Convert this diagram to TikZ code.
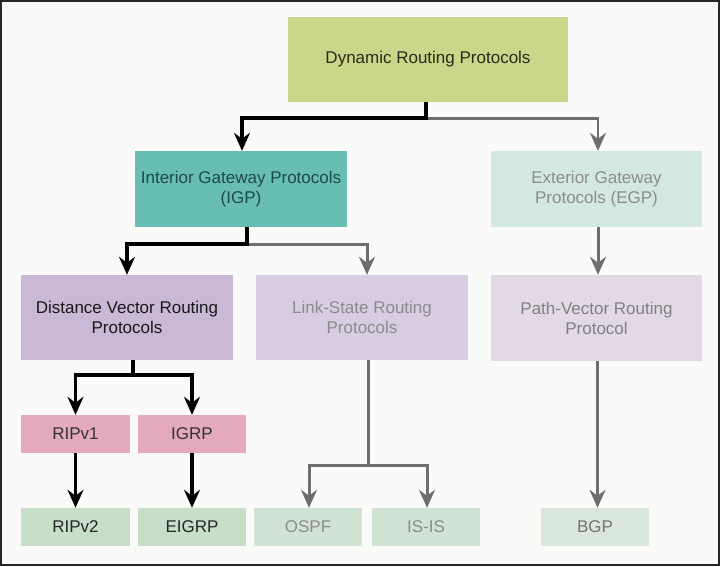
\documentclass[tikz,border=0pt]{standalone}
\usepackage{fontspec}
\setmainfont{Liberation Sans}
\usetikzlibrary{arrows.meta,calc}
\definecolor{bgc}{HTML}{FAFAF9}
\definecolor{dynf}{HTML}{CCD68B}
\definecolor{igpf}{HTML}{68BEB4}
\definecolor{egpf}{HTML}{D4E8E3}
\definecolor{dvf}{HTML}{C9B9D7}
\definecolor{lsf}{HTML}{D7CCE1}
\definecolor{pvf}{HTML}{E3D9E6}
\definecolor{pinkf}{HTML}{E3AABB}
\definecolor{grnf}{HTML}{C7DEC9}
\definecolor{grnl}{HTML}{D1E4D4}
\definecolor{bgpf}{HTML}{D9E7DF}
\definecolor{gline}{HTML}{6E6E6E}
\definecolor{dyntxt}{HTML}{2A2A18}
\definecolor{igptxt}{HTML}{1E4A47}
\tikzset{
  box/.style={draw=none, inner sep=0pt, align=center, font=\fontsize{17}{20}\selectfont},
  bigbox/.style={box, minimum width=212pt, minimum height=85pt},
  smallbox/.style={box, minimum width=108pt, minimum height=38pt},
  tip/.style={-{Stealth[length=18pt,width=16pt,inset=6pt]}},
  blk/.style={line width=3.6pt, black, tip},
  gry/.style={line width=3pt, gline, tip},
}
\begin{document}
\begin{tikzpicture}[x=1pt,y=-1pt]
\fill[bgc] (0,0) rectangle (720,566);
\useasboundingbox (0,0) rectangle (720,566);
\draw[line width=1.6pt, black!85] (0.8,0.8) rectangle (719.2,565.2);

\node[box, fill=dynf, text=dyntxt, minimum width=280pt, minimum height=85pt] (dyn) at (428,59.5) {Dynamic Routing Protocols};
\node[bigbox, fill=igpf, text=igptxt, minimum height=76pt] (igp) at (241,189) {Interior Gateway Protocols\\(IGP)};
\node[bigbox, fill=egpf, text=black!45, minimum width=211pt, minimum height=76pt] (egp) at (596.5,189) {Exterior Gateway\\Protocols (EGP)};
\node[bigbox, fill=dvf, text=black!90] (dv) at (127,317.5) {Distance Vector Routing\\Protocols};
\node[bigbox, fill=lsf, text=black!45] (ls) at (362,317.5) {Link-State Routing\\Protocols};
\node[bigbox, fill=pvf, text=black!50, minimum width=211pt, minimum height=86pt] (pv) at (596.5,318) {Path-Vector Routing\\Protocol};

\node[smallbox, fill=pinkf, text=black!80, minimum width=109pt] (rip1) at (75.5,434) {RIPv1};
\node[smallbox, fill=pinkf, text=black!80] (igrp) at (192,434) {IGRP};
\node[smallbox, fill=grnf, text=black!85, minimum width=109pt] (rip2) at (75.5,527) {RIPv2};
\node[smallbox, fill=grnf, text=black!85] (eigrp) at (192,527) {EIGRP};
\node[smallbox, fill=grnl, text=black!45] (ospf) at (308,527) {OSPF};
\node[smallbox, fill=grnl, text=black!45] (isis) at (426,527) {IS-IS};
\node[smallbox, fill=bgpf, text=black!55] (bgp) at (595,527) {BGP};

% Dynamic -> IGP / EGP
\coordinate (j1) at ($(dyn.south)+(-2,16)$);
\draw[gry, line width=2.6pt] (j1) -| ([xshift=1.5pt]egp.north);
\draw[blk] ([xshift=-2pt]dyn.south) -- (j1) -| ([xshift=1pt]igp.north);

% IGP -> DV / LS
\coordinate (j2) at ($(igp.south)+(6,17)$);
\draw[gry] (j2) -| ([xshift=5pt]ls.north);
\draw[blk] ([xshift=6pt]igp.south) -- (j2) -| (dv.north);

% EGP -> PV -> BGP
\draw[gry] ([xshift=1.5pt]egp.south) -- ([xshift=1.5pt]pv.north);
\draw[gry] ([xshift=1pt]pv.south) -- ($(pv.south |- bgp.north)+(1,0)$);

% DV -> RIPv1 / IGRP
\coordinate (j3) at ($(dv.south)+(6,15)$);
\draw[blk] ([xshift=6pt]dv.south) -- (j3) -| (rip1.north);
\draw[blk] (j3) -| (igrp.north);
\draw[blk] (rip1.south) -- (rip2.north);
\draw[blk] (igrp.south) -- (eigrp.north);

% LS -> OSPF / IS-IS
\coordinate (j4) at ($(ls.south)+(6,105)$);
\draw[gry] ([xshift=6pt]ls.south) -- (j4) -| ([xshift=1pt]ospf.north);
\draw[gry] (j4) -| ([xshift=1pt]isis.north);
\end{tikzpicture}
\end{document}
